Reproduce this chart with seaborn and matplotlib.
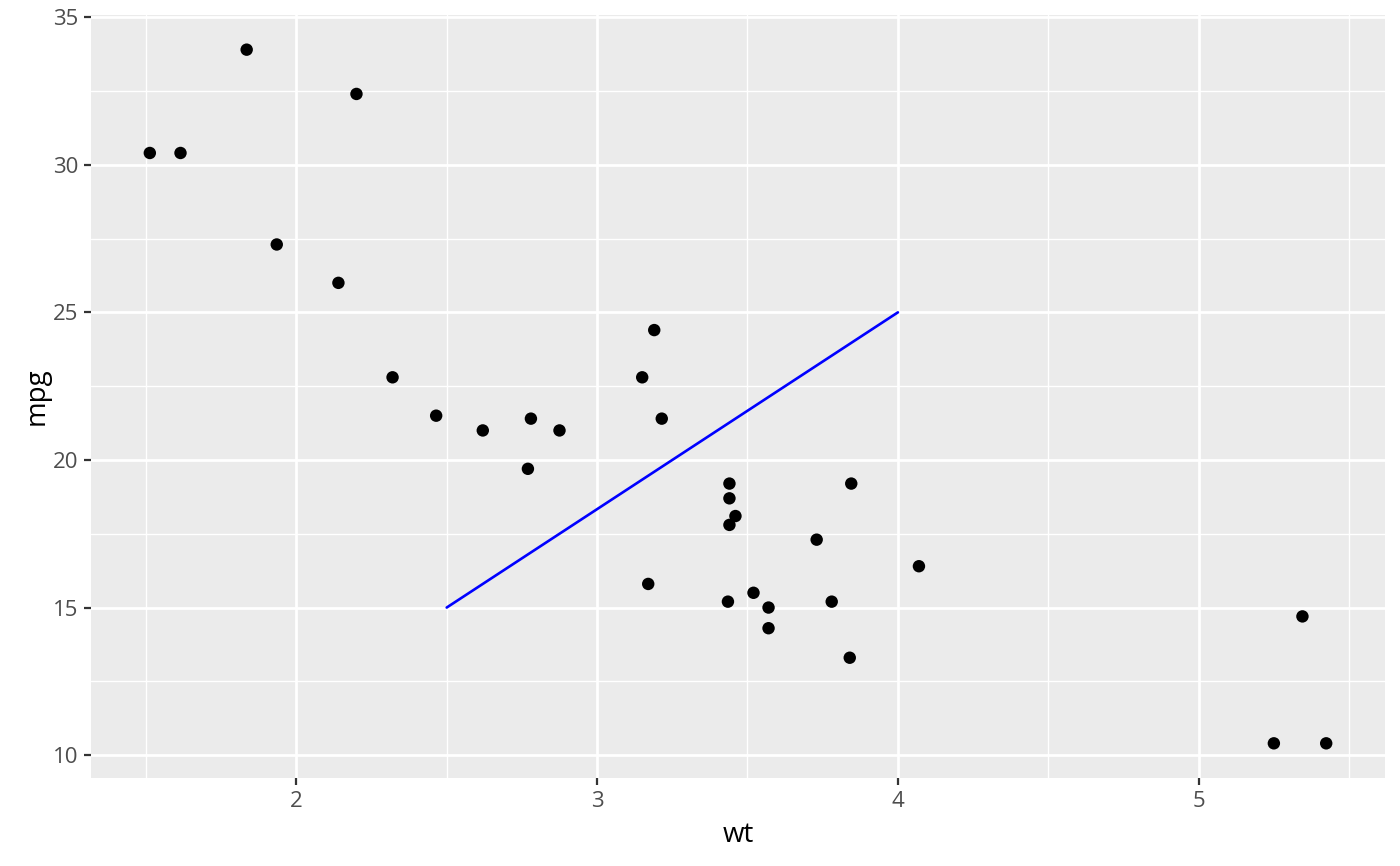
import matplotlib
matplotlib.use("Agg")
import matplotlib.pyplot as plt
import seaborn as sns
import pandas as pd
from matplotlib.ticker import MultipleLocator

wt = [2.620, 2.875, 2.320, 3.215, 3.440, 3.460, 3.570, 3.190, 3.150, 3.440,
      3.440, 4.070, 3.730, 3.780, 5.250, 5.424, 5.345, 2.200, 1.615, 1.835,
      2.465, 3.520, 3.435, 3.840, 3.845, 1.935, 2.140, 1.513, 3.170, 2.770,
      3.570, 2.780]
mpg = [21.0, 21.0, 22.8, 21.4, 18.7, 18.1, 14.3, 24.4, 22.8, 19.2,
       17.8, 16.4, 17.3, 15.2, 10.4, 10.4, 14.7, 32.4, 30.4, 33.9,
       21.5, 15.5, 15.2, 13.3, 19.2, 27.3, 26.0, 30.4, 15.8, 19.7,
       15.0, 21.4]
seg_x = [2.5, 4.0]
seg_y = [15, 25]
x_ticks = [2, 3, 4, 5]
y_ticks = [10, 15, 20, 25, 30, 35]

df = pd.DataFrame({"wt": wt, "mpg": mpg})
seg = pd.DataFrame({"x": seg_x, "y": seg_y})

sns.set_theme(style="darkgrid")
plt.rcParams['font.family'] = ['Open Sans', 'DejaVu Sans']

fig = plt.figure(figsize=(14, 8.66), dpi=100)
ax = fig.add_axes([0.065, 0.1016, 0.9243, 0.8811])
ax.set_facecolor("#EBEBEB")

sns.scatterplot(data=df, x="wt", y="mpg", ax=ax, color="black", s=80,
                edgecolor="none", zorder=3)
sns.lineplot(data=seg, x="x", y="y", ax=ax, color="#0000FF", linewidth=1.9,
             zorder=4)

xr = max(wt) - min(wt)
yr = max(mpg) - min(mpg)
ax.set_xlim(min(wt) - 0.05 * xr, max(wt) + 0.05 * xr)
ax.set_ylim(min(mpg) - 0.05 * yr, max(mpg) + 0.05 * yr)

ax.set_xticks(x_ticks)
ax.set_yticks(y_ticks)
ax.xaxis.set_minor_locator(MultipleLocator(0.5))
ax.yaxis.set_minor_locator(MultipleLocator(2.5))
ax.grid(which="major", color="white", linewidth=2.0)
ax.grid(which="minor", color="white", linewidth=1.0)
ax.set_axisbelow(True)
for s in ax.spines.values():
    s.set_visible(False)

ax.tick_params(axis="both", which="major", length=5, width=1.6,
               color="#333333", labelsize=16, labelcolor="#4D4D4D", pad=4,
               bottom=True, left=True)
ax.tick_params(axis="both", which="minor", length=0)
ax.set_xlabel("wt", fontsize=20, color="black", labelpad=7)
ax.set_ylabel("mpg", fontsize=20, color="black", labelpad=2)

fig.savefig("out.png", dpi=100, facecolor="white")
